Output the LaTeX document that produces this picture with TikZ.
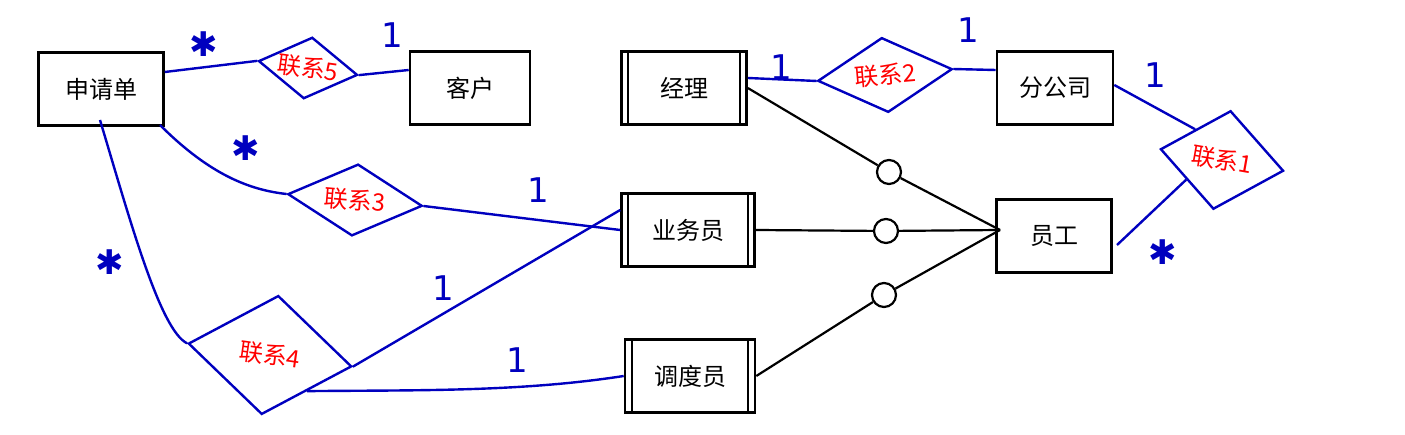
\documentclass[tikz,border=0pt]{standalone}
\usepackage{fontspec}
\newfontfamily\cjk{Noto Sans CJK SC}
\newfontfamily\djsans{DejaVu Sans}
\usetikzlibrary{shapes.geometric}
\begin{document}
\begin{tikzpicture}[x=1pt,y=-1pt,
  ent/.style={draw,line width=2.6pt,minimum width=125pt,minimum height=73pt,font=\cjk\fontsize{24}{26}\selectfont,inner sep=0},
  rel/.style={draw=blue!75!black,line width=2.4pt,diamond,aspect=1.6,inner sep=0,text=red,font=\cjk\fontsize{24}{26}\selectfont},
  bl/.style={draw=blue!75!black,line width=2.4pt},
  card/.style={text=blue!75!black,font=\djsans\fontsize{34}{34}\selectfont},
  ring/.style={draw,circle,fill=white,line width=2.2pt,minimum size=24pt,inner sep=0}]
\useasboundingbox (0,0) rectangle (1405,435);
\fill[white] (0,0) rectangle (1405,435);
\node[ent] (sq) at (101,89) {申请单};
\node[ent,minimum width=120pt] (kh) at (470,88) {客户};
\node[ent] (jl) at (684,88) {经理};
\node[ent,minimum width=116pt] (fg) at (1055,88) {分公司};
\node[ent,minimum width=133pt] (yw) at (688,230) {业务员};
\node[ent,minimum width=115pt] (yg) at (1054,236) {员工};
\node[ent,minimum width=130pt] (dd) at (690,376) {调度员};
\foreach \n in {jl,yw,dd}{
  \draw[line width=2.2pt] ([xshift=8pt]\n.north west) -- ([xshift=8pt]\n.south west);
  \draw[line width=2.2pt] ([xshift=-8pt]\n.north east) -- ([xshift=-8pt]\n.south east);}
\coordinate (hub) at (1000,230);
\node[ring] (c1) at (889,172) {};
\node[ring] (c2) at (886,231) {};
\node[ring] (c3) at (884,295) {};
\draw[line width=2.2pt] (jl.east) -- (c1) -- (hub);
\draw[line width=2.2pt] (yw.east) -- (c2) -- (hub);
\draw[line width=2.2pt] (dd.east) -- (c3) -- (hub);
\node[rel,minimum width=100pt,minimum height=62pt,rotate=-8] (r5) at (308,68) {联系5};
\node[rel,minimum width=135pt,minimum height=72pt,rotate=-5] (r3) at (355,200) {联系3};
\node[rel,minimum width=135pt,minimum height=75pt,rotate=5] (r2) at (885,75) {联系2};
\node[rel,minimum width=125pt,minimum height=100pt,rotate=-10] (r1) at (1222,160) {联系1};
\node[rel,minimum width=165pt,minimum height=120pt,rotate=-8] (r4) at (270,355) {联系4};
\draw[bl] (sq.east|-0,72) -- (r5.west);
\draw[bl] (r5.east) -- (kh.west|-0,70);
\draw[bl] (160,125) .. controls (210,175) and (250,190) .. (r3.west);
\draw[bl] (r3.east) -- (yw.west);
\draw[bl] (100,120) .. controls (130,220) and (160,330) .. (r4.west);
\draw[bl] (r4.east) -- ([yshift=20pt]yw.west);
\draw[bl] (r4.south east) .. controls (420,390) and (520,392) .. (dd.west);
\draw[bl] (jl.east|-0,78) -- (r2.west);
\draw[bl] (r2.east) -- (fg.west|-0,70);
\draw[bl] (fg.east|-0,85) -- (r1.north west);
\draw[bl] (r1.south west) -- (1117,245);
\node[card] (m1) at (204,44) {✱};
\node[card] (m2) at (246,148) {✱};
\node[card] (m3) at (110,262) {✱};
\node[card] (m4) at (1163,252) {✱};
\node[card] (n1) at (392,35) {1};
\node[card] (n2) at (538,190) {1};
\node[card] (n3) at (443,288) {1};
\node[card] (n4) at (517,360) {1};
\node[card] (n5) at (781,67) {1};
\node[card] (n6) at (968,30) {1};
\node[card] (n7) at (1155,75) {1};
\end{tikzpicture}
\end{document}
